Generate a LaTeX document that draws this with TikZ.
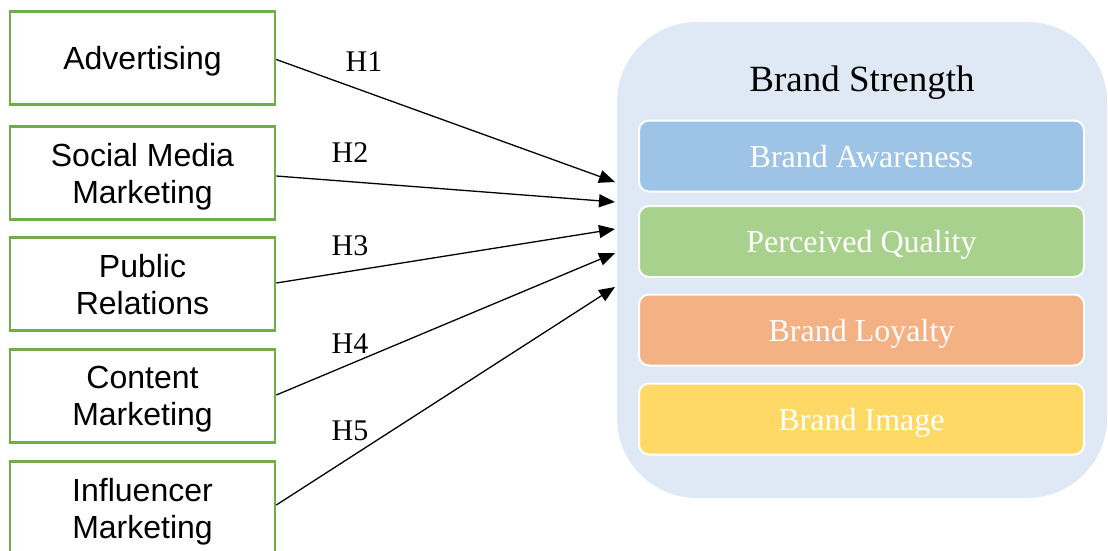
\documentclass[tikz,border=0pt]{standalone}
\usepackage{fontspec}
\setmainfont{Liberation Serif}
\setsansfont{Liberation Sans}
\usetikzlibrary{arrows.meta,positioning}
\definecolor{boxgreen}{HTML}{70AD47}
\definecolor{panelblue}{HTML}{DEE9F5}
\definecolor{dimblue}{HTML}{9DC3E6}
\definecolor{dimgreen}{HTML}{A9D18E}
\definecolor{dimorange}{HTML}{F4B183}
\definecolor{dimyellow}{HTML}{FFD966}

\begin{document}
\begin{tikzpicture}[x=1pt,y=-1pt,>=Latex,
src box/.style={draw=boxgreen,line width=2.6pt,minimum width=265pt,minimum height=93pt,inner sep=0pt,align=center,text depth=0pt,font=\sffamily\fontsize{32}{37}\selectfont},
panel/.style={fill=panelblue,rounded corners=80pt,minimum width=490pt,minimum height=476pt,inner sep=0pt},
dim box/.style={draw=white,line width=2pt,rounded corners=10pt,minimum width=445pt,minimum height=71pt,inner sep=0pt,text=white,text depth=0pt,font=\fontsize{32}{38}\selectfont},
flow/.style={-{Triangle[length=16pt,width=13pt]},line width=1.3pt},
hyp label/.style={inner sep=0pt,font=\fontsize{30}{36}\selectfont}]
\useasboundingbox (0,0) rectangle (1108,550);
% determinants
\node[src box] (adv) at (142.5,58) {Advertising};
\node[src box] (smm) at (142.5,173) {Social Media\\Marketing};
\node[src box] (pr) at (142.5,284) {Public\\Relations};
\node[src box] (cm) at (142.5,396) {Content\\Marketing};
\node[src box] (im) at (142.5,508) {Influencer\\Marketing};
% brand strength panel
\node[panel] (bs) at (862,260) {};
\node[font=\fontsize{37}{44}\selectfont,anchor=base] (title) at (862,91) {Brand Strength};
\node[dim box,fill=dimblue] (aw) at (861.5,156) {Brand Awareness};
\node[dim box,fill=dimgreen] (pq) at (861.5,241.5) {Perceived Quality};
\node[dim box,fill=dimorange] (bl) at (861.5,330) {Brand Loyalty};
\node[dim box,fill=dimyellow] (bi) at (861.5,419) {Brand Image};
% arrow ends on the panel
\coordinate (in1) at (615,182);
\coordinate (in2) at (615,202);
\coordinate (in3) at (615,229);
\coordinate (in4) at (615,253);
\coordinate (in5) at (615,287);
\draw[flow] ([yshift=-1.5pt]adv.east) -- (in1);
\draw[flow] ([yshift=-3pt]smm.east) -- (in2);
\draw[flow] ([yshift=1pt]pr.east) -- (in3);
\draw[flow] ([yshift=1pt]cm.east) -- (in4);
\draw[flow] ([yshift=3pt]im.east) -- (in5);
\node[hyp label] (h1) at (364,62) {H1};
\node[hyp label] (h2) at (350,153) {H2};
\node[hyp label] (h3) at (350,246) {H3};
\node[hyp label] (h4) at (350,344) {H4};
\node[hyp label] (h5) at (350,431) {H5};
\end{tikzpicture}
\end{document}
